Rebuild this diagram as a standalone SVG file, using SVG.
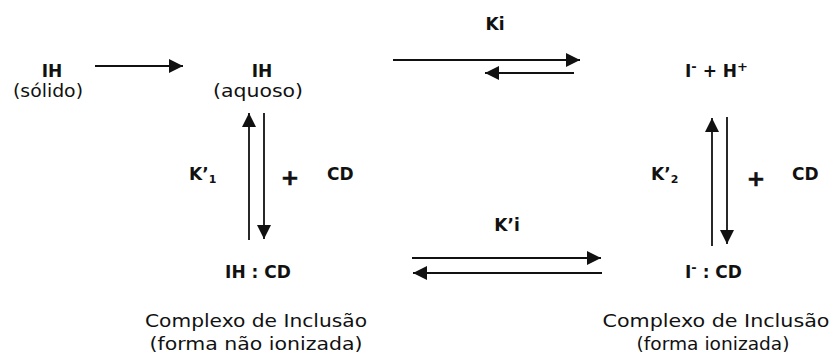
<svg xmlns="http://www.w3.org/2000/svg" width="835" height="360" viewBox="0 0 835 360">
  <style>
    .b { font-family: "DejaVu Sans", "Liberation Sans", sans-serif; font-weight: bold; font-size: 17px; fill: #111; }
    .r { font-family: "DejaVu Sans", "Liberation Sans", sans-serif; font-size: 17px; fill: #111; }
    .m { text-anchor: middle; }
    .p { font-size: 22px; stroke: #111; stroke-width: 0.6; }
    .ln { stroke: #111; stroke-width: 1.8; fill: none; marker-end: url(#ah); }
  </style>
  <defs>
    <marker id="ah" markerUnits="userSpaceOnUse" markerWidth="14" markerHeight="14" refX="14" refY="7" orient="auto">
      <path d="M0,0 L14,7 L0,14 z" fill="#111"/>
    </marker>
  </defs>
  <rect width="835" height="360" fill="#fff"/>

  <g id="ih-solido">
    <text class="b m" x="52" y="77">IH</text>
    <text class="r m" x="48" y="97" textLength="70" lengthAdjust="spacingAndGlyphs">(sólido)</text>
  </g>
  <g id="ih-aquoso">
    <text class="b m" x="262" y="77">IH</text>
    <text class="r m" x="258" y="97" textLength="90" lengthAdjust="spacingAndGlyphs">(aquoso)</text>
  </g>
  <g id="ions">
    <text class="b" x="685" y="77">I<tspan font-size="13" dy="-6">-</tspan><tspan dy="6"> + H</tspan><tspan font-size="13" dy="-6">+</tspan></text>
  </g>
  <g id="ih-cd">
    <text class="b m" x="258" y="278">IH : CD</text>
    <text class="r m" x="256" y="327" textLength="222" lengthAdjust="spacingAndGlyphs">Complexo de Inclusão</text>
    <text class="r m" x="256" y="350" textLength="213" lengthAdjust="spacingAndGlyphs">(forma não ionizada)</text>
  </g>
  <g id="i-cd">
    <text class="b" x="685" y="278">I<tspan font-size="13" dy="-6">-</tspan><tspan dy="6"> : CD</tspan></text>
    <text class="r m" x="716" y="327" textLength="227" lengthAdjust="spacingAndGlyphs">Complexo de Inclusão</text>
    <text class="r m" x="713" y="350" textLength="153" lengthAdjust="spacingAndGlyphs">(forma ionizada)</text>
  </g>
  <g id="labels">
    <text class="b m" x="495" y="30">Ki</text>
    <text class="b m" x="507" y="231">K’i</text>
    <text class="b" x="189" y="180">K’<tspan font-size="11" dy="3">1</tspan></text>
    <text class="b" x="651" y="180">K’<tspan font-size="11" dy="3">2</tspan></text>
    <text class="b m p" x="290" y="185">+</text>
    <text class="b" x="327" y="180">CD</text>
    <text class="b m p" x="756" y="186">+</text>
    <text class="b" x="792" y="180">CD</text>
  </g>

  <g id="connectors">
    <line class="ln" x1="95" y1="66" x2="183" y2="66"/>
    <line class="ln" x1="393" y1="60" x2="580" y2="60"/>
    <line class="ln" x1="574" y1="73" x2="485" y2="73"/>
    <line class="ln" x1="249" y1="240" x2="249" y2="113"/>
    <line class="ln" x1="264" y1="113" x2="264" y2="239"/>
    <line class="ln" x1="412" y1="258" x2="601" y2="258"/>
    <line class="ln" x1="602" y1="273" x2="413" y2="273"/>
    <line class="ln" x1="712" y1="246" x2="712" y2="118"/>
    <line class="ln" x1="727" y1="117" x2="727" y2="244"/>
  </g>
</svg>
